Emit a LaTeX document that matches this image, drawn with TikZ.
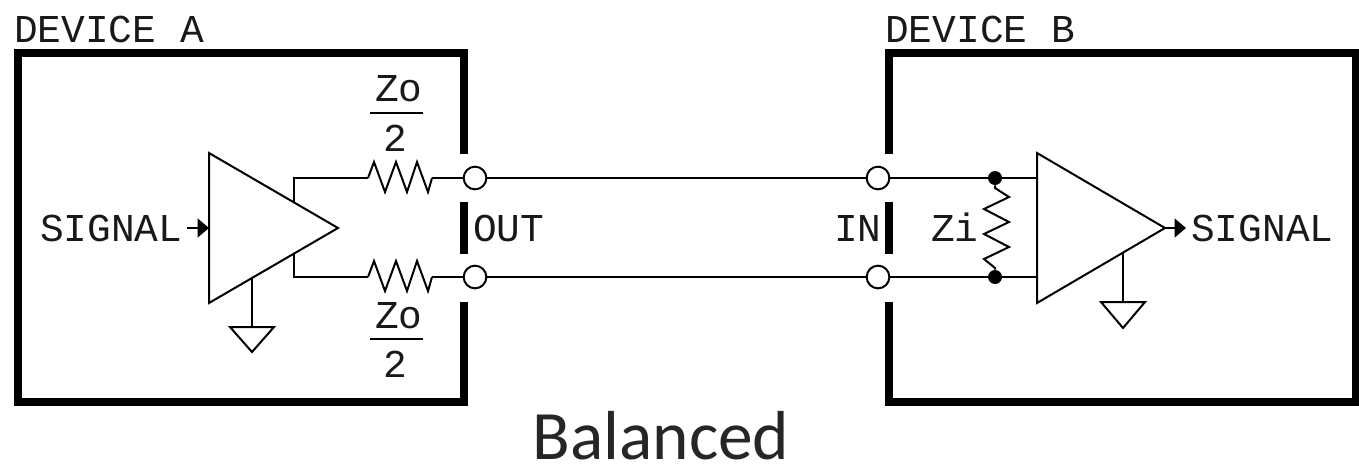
\documentclass[tikz,border=0pt]{standalone}
\usepackage{fontspec}
\usetikzlibrary{arrows.meta}
\newfontfamily\pixelfont{Liberation Mono}
\newfontfamily\titlefont{Carlito}
\tikzset{
  wall/.style={line width=5.6pt},
  wire/.style={line width=1.5pt,line join=miter},
  sig/.style={line width=1.5pt,-{Triangle[length=8.5pt,width=14pt]}},
  lbl/.style={font=\pixelfont\fontsize{29.6}{30}\selectfont,inner sep=0pt,anchor=base west,text=black!90},
  port/.style={circle,draw,line width=1.5pt,fill=white,inner sep=0pt,minimum size=17pt},
  joint/.style={circle,fill=black,inner sep=0pt,minimum size=10.5pt}
}
\begin{document}
\begin{tikzpicture}[x=0.75pt,y=-0.75pt]
\useasboundingbox (0,0) rectangle (1359,464);
\coordinate (A1) at (209,153);
\coordinate (A2) at (209,303);
\coordinate (A3) at (338,228);
\coordinate (A4) at (294,202);
\coordinate (A5) at (294,253);
\coordinate (A6) at (252,278);
\coordinate (A7) at (252,327);
\coordinate (RA1) at (368,178);
\coordinate (RA2) at (432,178);
\coordinate (RA3) at (368,277);
\coordinate (RA4) at (432,277);
\coordinate (B1) at (1037,153);
\coordinate (B2) at (1037,303);
\coordinate (B3) at (1165,228);
\coordinate (B4) at (1123,253);
\coordinate (B5) at (1123,302);
\coordinate (C1) at (187,228);
\coordinate (C2) at (1186,228);
\coordinate (C3) at (1037,178);
\coordinate (C4) at (1037,277);
% box walls
\draw[wall] (464,154)--(464,53)--(18,53)--(18,402)--(464,402)--(464,302);
\draw[wall] (464,202)--(464,254);
\draw[wall] (889,154)--(889,53)--(1355.5,53)--(1355.5,402)--(889,402)--(889,302);
\draw[wall] (889,202)--(889,254);
% amplifiers
\draw[wire] (A1)--(A2)--(A3)--cycle;
\draw[wire] (B1)--(B2)--(B3)--cycle;
\draw[wire] (A6)--(A7);
\draw[wire] (230,327)--(274,327)--(252,352)--cycle;
\draw[wire] (B4)--(B5);
\draw[wire] (1101,302)--(1145,302)--(1123,328)--cycle;
\draw[sig] (C1)--(A1 |- C1);
\draw[sig] (B3)--(C2);
% resistors
\draw[wire] (RA1)--(374,162)--(385,192)--(396,162)--(407,192)--(417,162)--(428,192)--(RA2);
\draw[wire] (RA3)--(374,261)--(385,291)--(396,261)--(407,291)--(417,261)--(428,291)--(RA4);
% ports and lines
\node[port] (outP) at (475,178) {};
\node[port] (outN) at (475,277) {};
\node[port] (inP) at (878,178) {};
\node[port] (inN) at (878,277) {};
\node[joint] (dotP) at (995,178) {};
\node[joint] (dotN) at (995,277) {};
\draw[wire] (A4)--(294,178)--(RA1);
\draw[wire] (A5)--(294,277)--(RA3);
\draw[wire] (RA2)--(outP);
\draw[wire] (RA4)--(outN);
\draw[wire] (outP)--(inP);
\draw[wire] (outN)--(inN);
\draw[wire] (inP)--(dotP);
\draw[wire] (inN)--(dotN);
\draw[wire] (dotP)--(C3);
\draw[wire] (dotN)--(C4);
\draw[wire] (dotP)--(995,188)--(1009,197)--(984,209)--(1009,222)--(984,234)--(1009,247)--(984,259)--(995,268)--(dotN);
% fraction bars
\draw[wire] (370,113)--(423,113);
\draw[wire] (370,339)--(423,339);
% labels
\node[lbl] (devA) at (14,42.5) {DEVICE A};
\node[lbl] (devB) at (885,42.5) {DEVICE B};
\node[lbl] (sigA) at (40,241.5) {SIGNAL};
\node[lbl] (sigB) at (1191,241.5) {SIGNAL};
\node[lbl] (lblOut) at (473,241.5) {OUT};
\node[lbl] (lblIn) at (834,241.5) {IN};
\node[lbl] (lblZi) at (931,241.5) {Zi};
\node[lbl] (zoT) at (375,101.5) {Zo};
\node[lbl] (twoT) at (383,151.5) {2};
\node[lbl] (zoB) at (375,328) {Zo};
\node[lbl] (twoB) at (383,377.5) {2};
\node[font=\titlefont\fontsize{52}{54}\selectfont,inner sep=0pt,anchor=base,text=black!85] (title) at (661,459.5) {Balanced};
\end{tikzpicture}
\end{document}
